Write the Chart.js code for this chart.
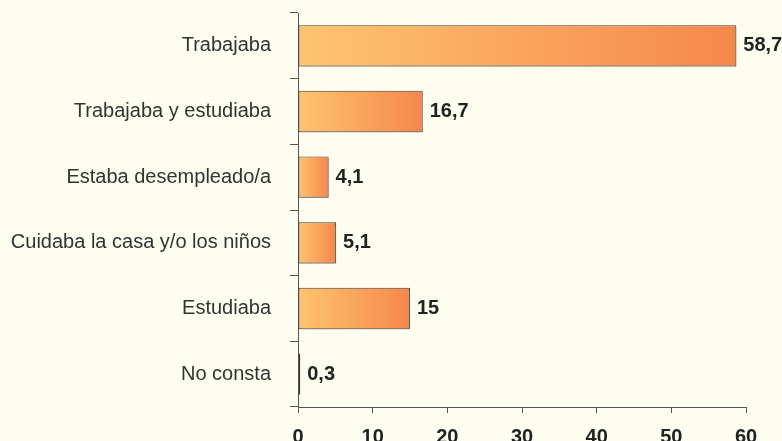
<!DOCTYPE html>
<html><head><meta charset="utf-8">
<script src="https://cdn.jsdelivr.net/npm/chart.js@4/dist/chart.umd.min.js"></script>
<style>
html,body{margin:0;padding:0;background:#fdfdf0;}
#wrap{width:782px;height:441px;position:relative;overflow:hidden;}
</style></head>
<body><div id="wrap"><canvas id="c" width="782" height="441"></canvas></div>
<script>
const categories = ["Trabajaba","Trabajaba y estudiaba","Estaba desempleado/a","Cuidaba la casa y/o los niños","Estudiaba","No consta"];
const values = [58.7,16.7,4.1,5.1,15,0.3];
const valueLabels = ["58,7","16,7","4,1","5,1","15","0,3"];
const xTicks = [0,10,20,30,40,50,60];

const FONT = '"Liberation Sans", Arial, sans-serif';
const bg = {id:'bg',beforeDraw(ch){const c=ch.ctx;c.save();c.fillStyle='#fdfdf0';c.fillRect(0,0,ch.width,ch.height);c.restore();}};
const shadow = {id:'shadow',
  beforeDatasetsDraw(ch){const c=ch.ctx;c.save();c.shadowColor='rgba(120,120,120,0.55)';c.shadowOffsetX=2;c.shadowOffsetY=2;c.shadowBlur=0;},
  afterDatasetsDraw(ch){ch.ctx.restore();
    const c=ch.ctx;const meta=ch.getDatasetMeta(0);
    c.save();c.font='bold 20px '+FONT;c.fillStyle='#222';c.textBaseline='middle';c.textAlign='left';
    meta.data.forEach((b,i)=>{c.fillText(valueLabels[i],b.x+7,b.y);});
    c.restore();}
};

new Chart(document.getElementById('c'),{
  type:'bar',
  data:{labels:categories,datasets:[{data:values,
    backgroundColor(ctx){
      const ch=ctx.chart;
      if(!ch.chartArea||!ch.scales.x) return '#f9a860';
      const sx=ch.scales.x;
      const x0=sx.getPixelForValue(0); const v=values[ctx.dataIndex];
      let x1=sx.getPixelForValue(v);
      if(!isFinite(x0)||!isFinite(x1)) return '#f9a860';
      x1=Math.max(x1,x0+1);
      const g=ch.ctx.createLinearGradient(x0,0,x1,0);
      g.addColorStop(0,'#fec470');g.addColorStop(1,'#f5874c');return g;},
    borderColor:'#4a3a30',borderWidth:1,borderSkipped:false,
    barPercentage:0.63,categoryPercentage:1}]},
  options:{indexAxis:'y',responsive:false,animation:false,
    layout:{padding:{left:0,right:36,top:13,bottom:0}},
    plugins:{legend:{display:false},tooltip:{enabled:false}},
    scales:{
      x:{min:0,max:60,afterBuildTicks(s){s.ticks=xTicks.map(v=>({value:v}));},
        afterFit(s){s.height=34;s.paddingLeft=0;s.paddingRight=0;},
        grid:{drawOnChartArea:false,drawTicks:true,tickLength:6,color:'#555'},
        border:{color:'#555',width:1},
        ticks:{color:'#222',font:{family:FONT,size:20,weight:'bold'},padding:12}},
      y:{grid:{offset:true,drawOnChartArea:false,tickLength:8,color:'#555'},
        border:{color:'#555',width:1},
        afterFit(s){s.width=298;s.paddingTop=0;s.paddingBottom=0;},
        ticks:{color:'#333',font:{family:FONT,size:20},padding:19}}
    }},
  plugins:[bg,shadow]
});
</script></body></html>
